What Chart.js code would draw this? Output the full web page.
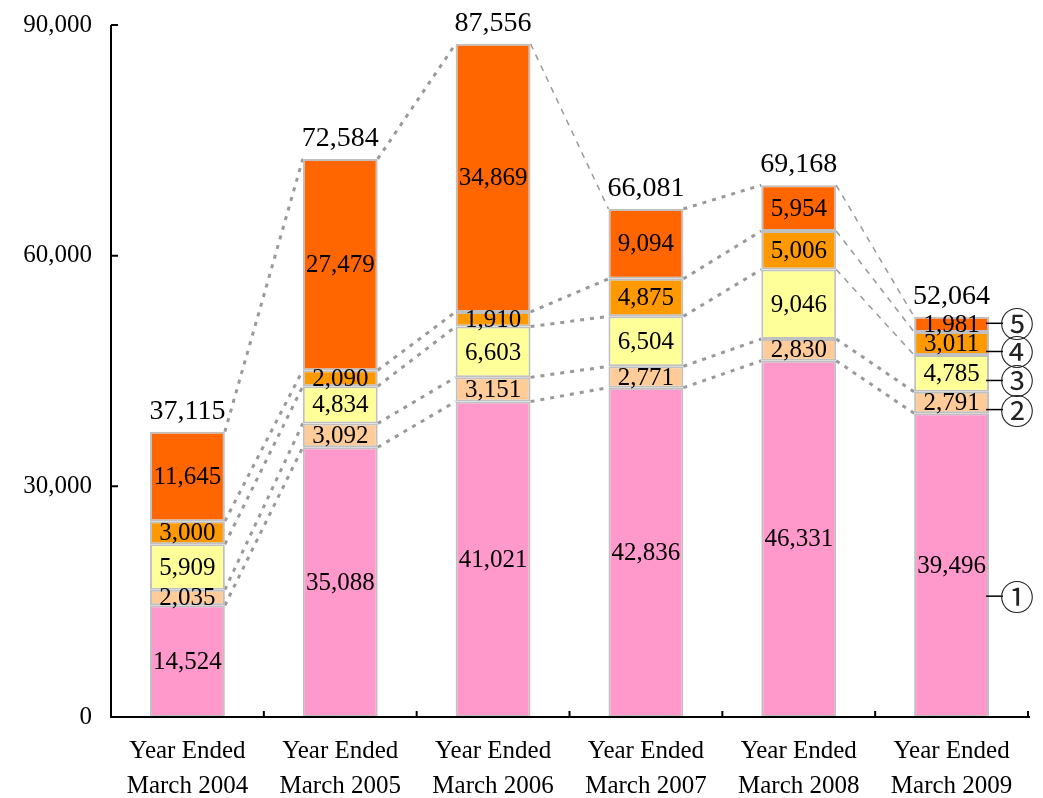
<!DOCTYPE html>
<html>
<head>
<meta charset="utf-8">
<script src="https://cdn.jsdelivr.net/npm/chart.js@4.4.1/dist/chart.umd.min.js"></script>
<style>
  html, body { margin: 0; padding: 0; background: #fff; }
  #wrap { width: 1043px; height: 798px; }
</style>
</head>
<body>
<div id="wrap"><canvas id="chart" width="1043" height="798"></canvas></div>
<script>
// categories
var years = [
    ['Year Ended', 'March 2004'],
    ['Year Ended', 'March 2005'],
    ['Year Ended', 'March 2006'],
    ['Year Ended', 'March 2007'],
    ['Year Ended', 'March 2008'],
    ['Year Ended', 'March 2009']
];

// segments, bottom to top
var seg1 = [14524, 35088, 41021, 42836, 46331, 39496];
var seg2 = [2035, 3092, 3151, 2771, 2830, 2791];
var seg3 = [5909, 4834, 6603, 6504, 9046, 4785];
var seg4 = [3000, 2090, 1910, 4875, 5006, 3011];
var seg5 = [11645, 27479, 34869, 9094, 5954, 1981];

// totals printed over each bar
var totals = [37115, 72584, 87556, 66081, 69168, 52064];

var marks = ['\u2460', '\u2461', '\u2462', '\u2463', '\u2464'];
var yTicks = [0, 30000, 60000, 90000];

var segColors = ['#FF99CC', '#FFCC99', '#FFFF99', '#FF9900', '#FF6600'];
var serif = '"Liberation Serif", "Times New Roman", serif';

function fmt(v) {
    return Number(v).toLocaleString('en-US');
}

var decor = {
    id: 'decor',
    beforeDatasetsDraw: function(chart) {
        var ctx = chart.ctx;
        ctx.save();
        // dotted connectors between tops of each segment
        chart.data.datasets.forEach(function(ds, d) {
            var els = chart.getDatasetMeta(d).data;
            for (var i = 0; i < els.length - 1; i++) {
                var a = els[i], b = els[i + 1];
                var x1 = a.x + a.width / 2, y1 = a.y;
                var x2 = b.x - b.width / 2, y2 = b.y;
                var steepDown = (y2 > y1) && ((y2 - y1) / (x2 - x1) > 1);
                ctx.beginPath();
                if (steepDown) {
                    ctx.strokeStyle = '#9a9a9a';
                    ctx.lineWidth = 1.5;
                    ctx.setLineDash([6, 6]);
                } else {
                    ctx.strokeStyle = '#999999';
                    ctx.lineWidth = 3;
                    ctx.setLineDash([4, 6]);
                }
                ctx.moveTo(x1, y1);
                ctx.lineTo(x2, y2);
                ctx.stroke();
            }
        });
        ctx.restore();
    },
    afterDatasetsDraw: function(chart) {
        var ctx = chart.ctx;
        var area = chart.chartArea;
        var yScale = chart.scales.y;
        ctx.save();

        // value inside each segment
        ctx.fillStyle = '#000';
        ctx.font = '25px ' + serif;
        ctx.textAlign = 'center';
        ctx.textBaseline = 'middle';
        chart.data.datasets.forEach(function(ds, d) {
            chart.getDatasetMeta(d).data.forEach(function(el, i) {
                ctx.fillText(fmt(ds.data[i]), el.x, (el.y + el.base) / 2 + 1);
            });
        });

        // totals
        var topMeta = chart.getDatasetMeta(chart.data.datasets.length - 1);
        ctx.font = '28px ' + serif;
        ctx.textBaseline = 'alphabetic';
        topMeta.data.forEach(function(el, i) {
            ctx.fillText(fmt(totals[i]), el.x, el.y - 13);
        });

        // axes with inside ticks
        ctx.strokeStyle = '#000';
        ctx.lineWidth = 2;
        ctx.beginPath();
        ctx.moveTo(area.left, area.top);
        ctx.lineTo(area.left, area.bottom);
        ctx.lineTo(area.right + 2, area.bottom);
        ctx.stroke();
        ctx.beginPath();
        yTicks.forEach(function(v) {
            var y = yScale.getPixelForValue(v);
            ctx.moveTo(area.left, y);
            ctx.lineTo(area.left + 7, y);
        });
        var step = (area.right - area.left) / years.length;
        for (var k = 1; k <= years.length; k++) {
            var x = area.left + k * step;
            ctx.moveTo(x, area.bottom);
            ctx.lineTo(x, area.bottom - 6);
        }
        ctx.stroke();

        // circled segment keys next to the last bar
        var offsets = [31, 7, 7, 8, -1];
        ctx.lineWidth = 1.5;
        ctx.font = '34px "Noto Sans CJK JP", "DejaVu Sans", sans-serif';
        ctx.fillStyle = '#222';
        ctx.textAlign = 'center';
        ctx.textBaseline = 'middle';
        chart.data.datasets.forEach(function(ds, d) {
            var els = chart.getDatasetMeta(d).data;
            var el = els[els.length - 1];
            var y = (el.y + el.base) / 2 + offsets[d];
            ctx.beginPath();
            ctx.moveTo(el.x + el.width / 2 - 3, y);
            ctx.lineTo(el.x + el.width / 2 + 14, y);
            ctx.stroke();
            ctx.fillText(marks[d], el.x + el.width / 2 + 28, y + 1);
        });

        ctx.restore();
    }
};

var segs = [seg1, seg2, seg3, seg4, seg5];

new Chart(document.getElementById('chart'), {
    type: 'bar',
    data: {
        labels: years,
        datasets: segs.map(function(s, d) {
            return {
                data: s,
                backgroundColor: segColors[d],
                borderColor: '#c0c0c0',
                borderWidth: 2,
                borderSkipped: false,
                barPercentage: 0.49,
                categoryPercentage: 1.0
            };
        })
    },
    options: {
        responsive: false,
        animation: false,
        devicePixelRatio: 1,
        layout: { padding: { top: 25, right: 15, left: 0, bottom: 0 } },
        plugins: {
            legend: { display: false },
            tooltip: { enabled: false }
        },
        scales: {
            x: {
                stacked: true,
                grid: { display: false, drawTicks: false },
                border: { display: false },
                ticks: {
                    color: '#000',
                    font: { family: serif, size: 25, lineHeight: 1.4 },
                    padding: 17,
                    maxRotation: 0,
                    autoSkip: false
                },
                afterFit: function(scale) {
                    scale.height = 81;
                    scale.paddingLeft = 0;
                    scale.paddingRight = 0;
                }
            },
            y: {
                stacked: true,
                min: 0,
                max: 90000,
                grid: { display: false, drawTicks: false },
                border: { display: false },
                afterBuildTicks: function(scale) {
                    scale.ticks = yTicks.map(function(v) { return { value: v }; });
                },
                ticks: {
                    color: '#000',
                    font: { family: serif, size: 25 },
                    padding: 19,
                    callback: function(v) { return fmt(v); }
                },
                afterFit: function(scale) {
                    scale.width = 111;
                    scale.paddingTop = 0;
                    scale.paddingBottom = 0;
                }
            }
        }
    },
    plugins: [decor]
});
</script>
</body>
</html>
